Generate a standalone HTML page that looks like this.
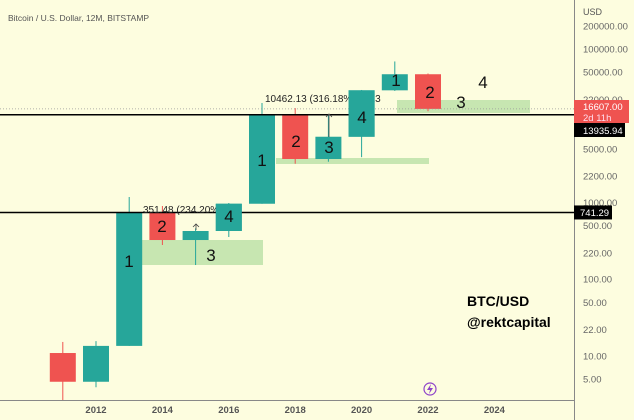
<!DOCTYPE html>
<html><head><meta charset="utf-8"><style>
body{margin:0;background:#fdfddf;}
svg{display:block;font-family:"Liberation Sans",sans-serif;}
</style></head><body>
<svg id="c" width="634" height="420">
<rect x="0" y="0" width="634" height="420" fill="#fdfddf"/>
<text x="8" y="21" font-size="8.5" fill="#555">Bitcoin / U.S. Dollar, 12M, BITSTAMP</text>
<text x="583" y="15" font-size="9" fill="#555">USD</text>
<g id="zones"></g>
<g id="candles"></g>
<g id="overlay"></g>
<g id="axes"></g>
</svg>
<script>
const years=[2011,2012,2013,2014,2015,2016,2017,2018,2019,2020,2021,2022];
const opens=[10.9,4.6,13.5,741,324,425,963,13850,3690,7200,29000,47000];
const highs=[15.2,15.6,1180,900,460,985,19800,17000,13800,29300,69000,48000];
const lows=[2,3.9,13.5,279,153,355,963,3200,3400,3900,28500,15500];
const closes=[4.6,13.5,741,324,425,963,13850,3690,7200,29000,47000,16607];
const yTicks=[200000,100000,50000,22000,5000,2200,1000,500,220,100,50,22,10,5];
const yTickLabels=["200000.00","100000.00","50000.00","22000.00","5000.00","2200.00","1000.00","500.00","220.00","100.00","50.00","22.00","10.00","5.00"];
const xTicks=[2012,2014,2016,2018,2020,2022,2024];
const NS="http://www.w3.org/2000/svg";
function X(yr){return 96+(yr-2012)*33.2;}
function Y(v){return 26+(Math.log10(200000)-Math.log10(v))*76.7;}
function mk(tag,attrs,parent,txt){const e=document.createElementNS(NS,tag);for(const k in attrs)e.setAttribute(k,attrs[k]);if(txt!==undefined)e.textContent=txt;parent.appendChild(e);return e;}
const cg=document.getElementById('candles');
years.forEach((yr,i)=>{
  const up=closes[i]>=opens[i];const col=up?'#26a69a':'#ef5350';
  const g=mk('g',{},cg);
  
  
  mk('line',{x1:X(yr),x2:X(yr),y1:Y(highs[i]),y2:Math.min(Y(lows[i]),400),stroke:col,'stroke-width':1},g);
  const t=Math.min(Y(opens[i]),Y(closes[i])),b=Math.max(Y(opens[i]),Y(closes[i]));
  mk('rect',{x:X(yr)-13,y:t,width:26,height:Math.max(b-t,1),fill:col},g);
});
const zg=document.getElementById('zones');
[[142,240,121,25],[276,158,153,6],[397,100,133,13]].forEach((z,i)=>{
  const r=mk('rect',{x:z[0],y:z[1],width:z[2],height:z[3],fill:'#b9e0a5',opacity:0.8},zg);
  
  
});
const og=document.getElementById('overlay');
// horizontal lines
mk('line',{x1:0,x2:574,y1:Y(16607),y2:Y(16607),stroke:'#999','stroke-width':0.8,'stroke-dasharray':'1,2'},og);
mk('line',{x1:0,x2:574,y1:Y(13935.94),y2:Y(13935.94),stroke:'#000','stroke-width':1.5},og);
mk('line',{x1:0,x2:574,y1:Y(741.29),y2:Y(741.29),stroke:'#000','stroke-width':1.5},og);
// arrows
mk('path',{d:'M196 230 L196 224 M193 227 L196 224 L199 227',stroke:'#444',fill:'none','stroke-width':0.8},og);
mk('path',{d:'M329 137 L329 114 M326 117 L329 114 L332 117',stroke:'#444',fill:'none','stroke-width':0.8},og);
mk('text',{x:265,y:102,'font-size':10,fill:'#222'},og,'10462.13 (316.18%) 6213');
mk('text',{x:143,y:213,'font-size':10,fill:'#222'},og,'351.48 (234.20%) 8');
// redraw 2020 & 2016 candles over text
[5,9].forEach(i=>{const yr=years[i];const t=Y(closes[i]),b=Y(opens[i]);mk('rect',{x:X(yr)-13,y:t,width:26,height:b-t,fill:'#26a69a'},og);});
const nums=[["1",129,267],["2",162,232],["3",211,261],["4",229,222],["1",262,166],["2",296,147],["3",329,153],["4",362,123],["1",396,86],["2",430,98],["3",461,108],["4",483,88]];
nums.forEach((n,i)=>{const t=mk('text',{x:n[1],y:n[2],'font-size':17,fill:'#111','text-anchor':'middle'},og,n[0]);
 
 });
mk('text',{x:467,y:306,'font-size':14,'font-weight':'bold',fill:'#000'},og,'BTC/USD');
mk('text',{x:467,y:327,'font-size':14,'font-weight':'bold',fill:'#000'},og,'@rektcapital');
mk('circle',{cx:430,cy:389,r:6,fill:'none',stroke:'#8e44c9','stroke-width':1.2},og);
mk('path',{d:'M431 384 L427 390 L430 390 L429 394 L433 388 L430 388 Z',fill:'#8e44c9'},og);
const ag=document.getElementById('axes');
mk('line',{x1:574.5,x2:574.5,y1:0,y2:420,stroke:'#888','stroke-width':1},ag);
mk('line',{x1:0,x2:574,y1:400.5,y2:400.5,stroke:'#888','stroke-width':1},ag);
yTicks.forEach((v,i)=>{const t=mk('text',{x:583,y:Y(v)+3.5,'font-size':9.5,fill:'#666'},ag,yTickLabels[i]);
 
 });
xTicks.forEach(yr=>{const t=mk('text',{x:X(yr),y:413,'font-size':9.5,fill:'#555','font-weight':'bold','text-anchor':'middle'},ag,String(yr));
 
 });
mk('rect',{x:574,y:100,width:55,height:23,fill:'#ef5350'},ag);
mk('text',{x:583,y:110,'font-size':9.5,fill:'#fff'},ag,'16607.00');
mk('text',{x:583,y:121,'font-size':9.5,fill:'#fde'},ag,'2d 11h');
mk('rect',{x:574,y:123,width:51,height:14,fill:'#000'},ag);
mk('text',{x:583,y:134,'font-size':9.5,fill:'#fff'},ag,'13935.94');
mk('rect',{x:574,y:Y(741.29)-7,width:38,height:14,fill:'#000'},ag);
mk('text',{x:580,y:Y(741.29)+3.5,'font-size':9.5,fill:'#fff'},ag,'741.29');
</script>
</body></html>
